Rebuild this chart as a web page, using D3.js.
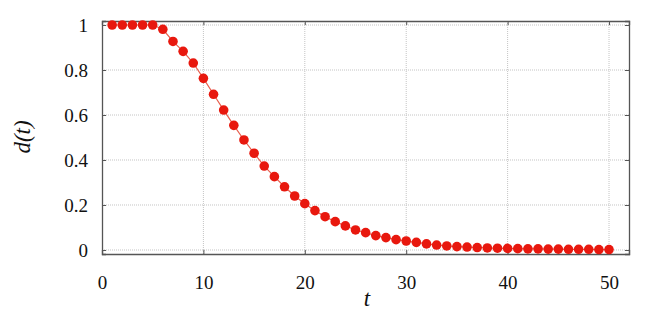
<!DOCTYPE html>
<html>
<head>
<meta charset="utf-8">
<script src="https://cdn.jsdelivr.net/npm/d3@7"></script>
<style>
  body { margin: 0; background: #fff; }
  svg { display: block; }
</style>
</head>
<body>
<div id="chart"></div>
<script>
// t = 1..50
var tValues = d3.range(1, 51);
var dValues = [1.0, 1.0, 1.0, 1.0, 1.0, 0.981, 0.927, 0.883, 0.831, 0.763,
               0.692, 0.622, 0.554, 0.489, 0.430, 0.373, 0.326, 0.281, 0.240, 0.206,
               0.175, 0.148, 0.126, 0.107, 0.089, 0.077, 0.064, 0.055, 0.046, 0.040,
               0.034, 0.027, 0.022, 0.018, 0.015, 0.013, 0.011, 0.009, 0.008, 0.007,
               0.006, 0.005, 0.005, 0.004, 0.004, 0.003, 0.003, 0.003, 0.002, 0.002];
var xTicks = [0, 10, 20, 30, 40, 50];
var yTicks = [0, 0.2, 0.4, 0.6, 0.8, 1];

var width = 650, height = 314;
var margin = {top: 21, right: 21, bottom: 60, left: 102};
var gw = width - margin.left - margin.right,   // 527
    gh = height - margin.top - margin.bottom;  // 233
var serif = "Liberation Serif";

var data = tValues.map(function(t, i) { return {t: t, d: dValues[i]}; });

var x = d3.scaleLinear().domain([0, 51.97]).range([0, gw]);
var y = d3.scaleLinear().domain([-0.0178, 1.0178]).range([gh, 0]);

var svg = d3.select("#chart").append("svg")
  .attr("width", width)
  .attr("height", height);

var g = svg.append("g")
  .attr("transform", "translate(" + margin.left + "," + margin.top + ")");

// grid
g.selectAll("line.gx")
  .data(xTicks.slice(1)).enter()
  .append("line")
  .attr("class", "gx")
  .attr("x1", function(d) { return x(d); })
  .attr("x2", function(d) { return x(d); })
  .attr("y1", 0)
  .attr("y2", gh)
  .style("stroke", "#c4c4c4")
  .style("stroke-width", 1)
  .style("stroke-dasharray", "1,1");

g.selectAll("line.gy")
  .data(yTicks).enter()
  .append("line")
  .attr("class", "gy")
  .attr("x1", 0)
  .attr("x2", gw)
  .attr("y1", function(d) { return y(d); })
  .attr("y2", function(d) { return y(d); })
  .style("stroke", "#c4c4c4")
  .style("stroke-width", 1)
  .style("stroke-dasharray", "1,1");

// axes, ticks pointing inward, mirrored
var axes = g.append("g").attr("class", "axes");
axes.append("g")
  .attr("transform", "translate(0," + gh + ")")
  .call(d3.axisBottom(x).tickValues(xTicks).tickSize(-4).tickPadding(22).tickFormat(d3.format("d")));
axes.append("g")
  .call(d3.axisTop(x).tickValues(xTicks).tickSize(-4).tickFormat(""));
axes.append("g")
  .call(d3.axisLeft(y).tickValues(yTicks).tickSize(-4).tickPadding(14).tickFormat(d3.format("")));
axes.append("g")
  .attr("transform", "translate(" + gw + ",0)")
  .call(d3.axisRight(y).tickValues(yTicks).tickSize(-4).tickFormat(""));

axes.selectAll("g")
  .attr("font-family", serif)
  .attr("font-size", 19);
axes.selectAll(".domain").style("stroke", "#555").style("stroke-width", 1.3);
axes.selectAll(".tick line").style("stroke", "#555");
axes.selectAll(".tick text").attr("font-family", serif).style("fill", "#111");

// line
g.append("path")
  .datum(data)
  .attr("d", d3.line()
    .x(function(d) { return x(d.t); })
    .y(function(d) { return y(d.d); }))
  .style("fill", "none")
  .style("stroke", "#e8604f")
  .style("stroke-width", 1.2);

// points
g.selectAll("circle")
  .data(data).enter()
  .append("circle")
  .attr("cx", function(d) { return x(d.t); })
  .attr("cy", function(d) { return y(d.d); })
  .attr("r", 4.8)
  .style("fill", "#e8180e");

// axis titles
svg.append("text")
  .attr("x", 367)
  .attr("y", 306)
  .attr("font-family", serif)
  .attr("font-size", 23)
  .attr("font-style", "italic")
  .attr("text-anchor", "middle")
  .style("fill", "#111")
  .text("t");

svg.append("text")
  .attr("transform", "translate(30,137) rotate(-90)")
  .attr("font-family", serif)
  .attr("font-size", 23)
  .attr("font-style", "italic")
  .attr("text-anchor", "middle")
  .style("fill", "#111")
  .text("d(t)");
</script>
</body>
</html>
